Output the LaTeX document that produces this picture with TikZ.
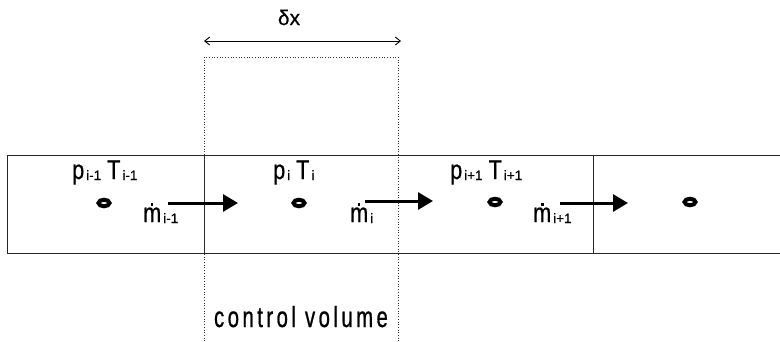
\documentclass[tikz,border=0pt]{standalone}
\usepackage{fontspec}
\setmainfont{Liberation Sans}[FakeStretch=0.8,FakeBold=0.6]
\newfontfamily\plainfont{Liberation Sans}[FakeBold=0.5]
\newfontfamily\cvfont{Liberation Sans}[FakeStretch=0.7,LetterSpace=12,FakeBold=0.8]
\usetikzlibrary{arrows.meta,shapes.geometric}

% big label text and its small index
\newcommand{\lbltxt}[1]{\fontsize{27}{29}\selectfont #1}
\newcommand{\idx}[1]{\hspace{2pt}\raisebox{-1pt}{\plainfont\fontsize{13.5}{14}\selectfont #1}}
% m with a dot above (mass flow rate)
\newcommand{\mflow}{\leavevmode\setbox0\hbox{m}\rlap{\hbox to\wd0{\hss\raisebox{0.6em}{\rule{2.6pt}{2.6pt}}\hss}}m}

\tikzset{
  pipeline/.style={line width=0.8pt, black!85},
  cvline/.style={line width=0.7pt, dotted, black!80},
  flowarrow/.style={line width=3pt, -{Triangle[length=15pt,width=17pt]}},
  spanarrow/.style={line width=0.9pt, {Straight Barb[length=5pt,width=8pt]}-{Straight Barb[length=5pt,width=8pt]}},
  cellpt/.style={ellipse, draw, line width=4pt, fill=white, minimum width=11pt, minimum height=6.5pt, inner sep=0pt},
  lbl/.style={anchor=base west, inner sep=0pt, font=\lbltxt{}},
}

\begin{document}
\begin{tikzpicture}[x=1pt,y=-1pt]
  \useasboundingbox (0,0) rectangle (780,341);

  % pipe segment, open on the right
  \draw[pipeline] (780,155) -- (7,155) -- (7,253) -- (780,253);
  \draw[pipeline] (204,155) -- (204,253);
  \draw[pipeline] (593,155) -- (593,253);

  % control volume
  \draw[cvline] (204,341) -- (204,57) -- (398,57) -- (398,341);

  % width of the control volume
  \coordinate (dxl) at (204,41);
  \coordinate (dxr) at (401,41);
  \draw[spanarrow] (dxl) -- (dxr);
  \node[inner sep=0pt, anchor=base, font=\plainfont\fontsize{21}{22}\selectfont] (dx) at (289,25) {δx};

  % mass flow arrows through the cell faces
  \coordinate (f1s) at (168,203); \coordinate (f1e) at (238,203);
  \coordinate (f2s) at (365,201); \coordinate (f2e) at (433,201);
  \coordinate (f3s) at (560,203); \coordinate (f3e) at (628,203);
  \draw[flowarrow] (f1s) -- (f1e);
  \draw[flowarrow] (f2s) -- (f2e);
  \draw[flowarrow] (f3s) -- (f3e);

  % cell centres
  \node[cellpt] (c1) at (104,203) {};
  \node[cellpt] (c2) at (299,203) {};
  \node[cellpt] (c3) at (495,202) {};
  \node[cellpt] (c4) at (690,202) {};

  % state labels
  \node[lbl] (s1) at (72,179) {p\idx{i-1}\hspace{6pt}T\idx{i-1}};
  \node[lbl] (s2) at (273,179) {p\idx{i}\hspace{6pt}T\idx{i}};
  \node[lbl] (s3) at (450,179) {p\idx{i+1}\hspace{6pt}T\idx{i+1}};

  % mass flow labels
  \node[lbl] (m1) at (143,222) {\mflow\idx{i-1}};
  \node[lbl] (m2) at (350,222) {\mflow\idx{i}};
  \node[lbl] (m3) at (533,222) {\mflow\idx{i+1}};

  \node[inner sep=0pt, anchor=base, font=\cvfont\fontsize{29}{30}\selectfont] (cv) at (301,327) {control volume};
\end{tikzpicture}
\end{document}
